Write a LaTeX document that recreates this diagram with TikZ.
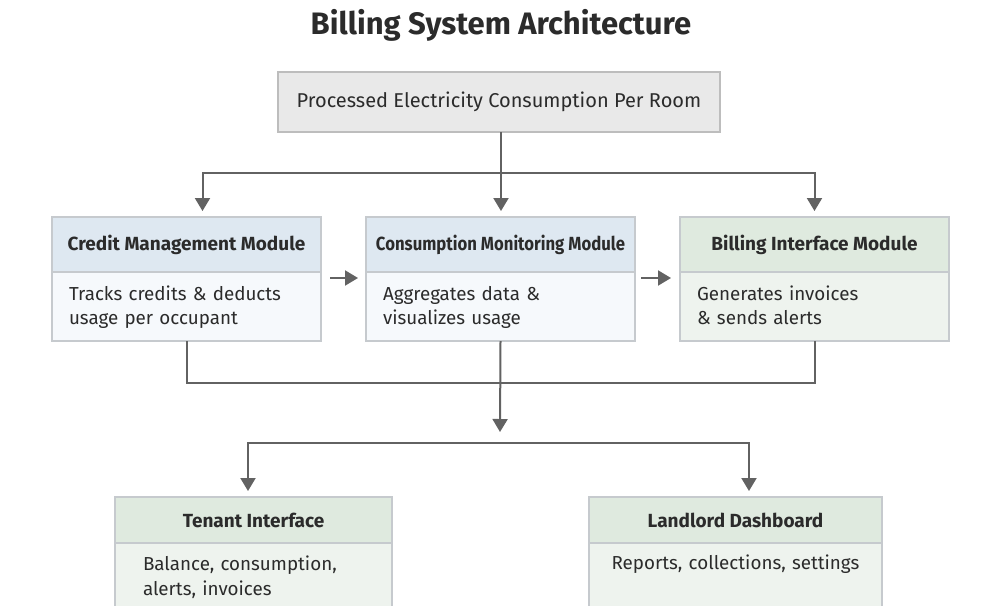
\documentclass[tikz,border=0pt]{standalone}
\usepackage{fontspec}
\setmainfont{Fira Sans}
\usetikzlibrary{arrows.meta,positioning}

\definecolor{txt}{HTML}{2B2B2B}
\definecolor{wire}{HTML}{626262}
\definecolor{rim}{HTML}{C6CACE}
\definecolor{greyrim}{HTML}{BDBDBD}
\definecolor{greyfill}{HTML}{E9E9E9}
\definecolor{bluehead}{HTML}{DEE8F1}
\definecolor{bluebody}{HTML}{F6F9FC}
\definecolor{greenhead}{HTML}{DFEADF}
\definecolor{greenbody}{HTML}{EEF3EE}

\begin{document}
\begin{tikzpicture}[x=1pt, y=-1pt, line width=2pt, node distance=45pt,
                    >={Triangle[width=15pt,length=13pt]}]
\tikzstyle{every node}=[text=txt, font=\fontsize{18.8}{24.5}\selectfont]
\tikzstyle{box}=[draw=rim, line width=1.2pt, outer sep=0pt, inner sep=0pt]
\tikzstyle{head}=[box, minimum width=269pt, minimum height=55pt,
                  font=\bfseries\fontsize{19}{22}\selectfont]
\tikzstyle{body}=[box, minimum width=269pt, minimum height=69pt,
                  text width=235pt, align=left]
\tikzstyle{modbody}=[body, execute at begin node={\rule{0pt}{18pt}},
                     execute at end node={\rule[-6pt]{0pt}{1pt}}]
\tikzstyle{link}=[->, draw=wire, color=wire, shorten >=6pt]

\useasboundingbox[fill=white] (0,0) rectangle (981,605);

\node[font=\bfseries\fontsize{31}{35}\selectfont] (title) at (501,25)
  {Billing System Architecture};
\node[box, draw=greyrim, fill=greyfill, minimum width=442pt,
      minimum height=60pt, font=\fontsize{20}{24}\selectfont] (feed) at (499,102)
  {Processed Electricity Consumption Per Room};

% module row
\node[head, fill=bluehead] (cm-h) at (186.5,244.5) {Credit Management Module};
\node[head, fill=bluehead] (cn-h) [right=of cm-h]
  {\scalebox{0.88}[1]{Consumption Monitoring Module}};
\node[head, fill=greenhead] (bi-h) [right=of cn-h] {Billing Interface Module};
\node[modbody, fill=bluebody] (cm) [below=0pt of cm-h]
  {Tracks credits \& deducts\\usage per occupant};
\node[modbody, fill=bluebody] (cn) [below=0pt of cn-h]
  {Aggregates data \&\\visualizes usage};
\node[modbody, fill=greenbody] (bi) [below=0pt of bi-h]
  {Generates invoices\\\& sends alerts};

% output row
\node[head, fill=greenhead, minimum width=277pt, minimum height=46pt]
  (ti-h) at (253.5,520) {Tenant Interface};
\node[head, fill=greenhead, minimum width=293pt, minimum height=46pt]
  (ld-h) [right=197pt of ti-h] {Landlord Dashboard};
\node[body, fill=greenbody, minimum width=277pt, minimum height=68pt,
      text width=221pt, anchor=north] (ti) at (ti-h.south)
  {Balance, consumption,\\alerts, invoices};
\node[body, fill=greenbody, minimum width=293pt, minimum height=40pt,
      text width=270pt, align=center, anchor=north, text height=26pt,
      text depth=44pt] (ld) at (ld-h.south)
  {Reports, collections, settings};

% feed to modules
\coordinate (split) at (501,173);
\draw[link] (feed.south -| split) -- (split |- cn-h.north);
\draw[link] (split) -| ([xshift=16pt]cm-h.north);
\draw[link] (split) -| (bi-h.north);
\draw[link, shorten <=9pt, shorten >=8pt]
  ([yshift=-6pt]cm-h.south east) -- ([yshift=-6pt]cn-h.south west);
\draw[link, shorten <=6pt, shorten >=9pt]
  ([yshift=-6pt]cn-h.south east) -- ([yshift=-6pt]bi-h.south west);

% modules to interfaces
\coordinate (merge) at (500,383);
\coordinate (hub) at (500,432);
\coordinate (fork) at (500,443);
\draw[draw=wire] (cm.south) |- (merge) -| (bi.south);
\draw[link, shorten >=0pt] (cn.south) -- (hub);
\draw[link] (fork) -| ([xshift=-5.5pt]ti-h.north);
\draw[link] (fork) -| ([xshift=13.5pt]ld-h.north);
\end{tikzpicture}
\end{document}
